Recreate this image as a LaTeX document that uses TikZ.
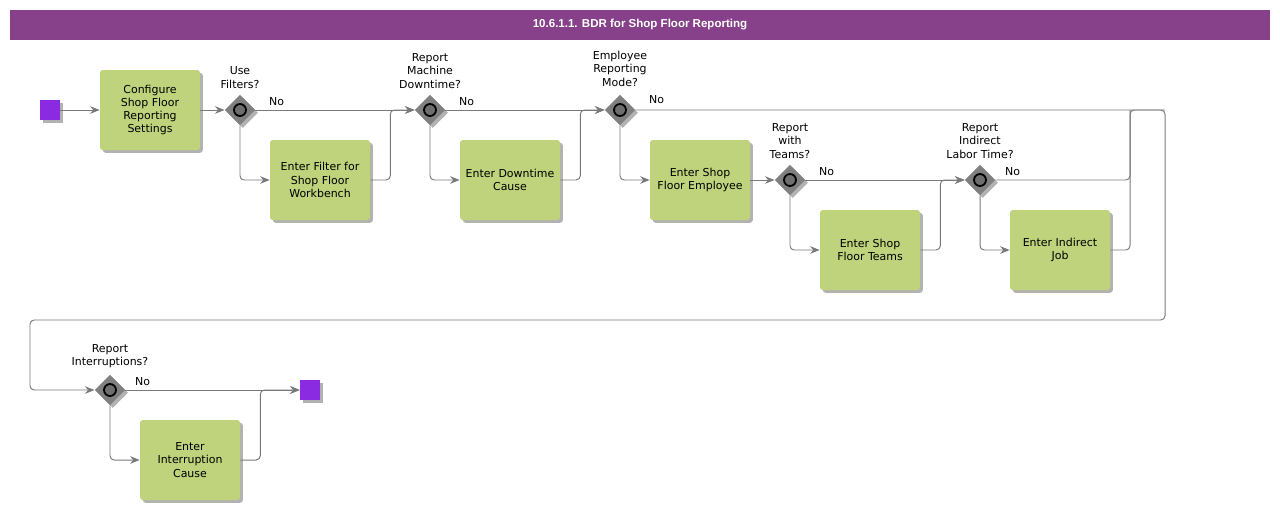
\documentclass[tikz,border=0pt]{standalone}
\usepackage{fontspec}
\setmainfont{DejaVu Sans}
\newfontfamily\titolofont{Liberation Sans}
\usepackage{tikz}
\usetikzlibrary{positioning, arrows.meta, shapes.geometric, shadows, calc}
\definecolor{titolocol}{HTML}{87418B}
\definecolor{attivcol}{HTML}{BED37C}
\definecolor{eventocol}{HTML}{8A2BE2}
\definecolor{lineacol}{HTML}{7A7A7A}
\definecolor{deccol}{HTML}{808080}
\definecolor{cerchiocol}{HTML}{6E6E6E}
\newcommand{\testo}{\fontsize{7.8}{9.4}\selectfont}
\tikzset{
	>={Stealth[length=2.4mm, width=1.9mm]},
	% ombra comune
	ombra/.style={drop shadow={shadow xshift=0.07cm, shadow yshift=-0.07cm, opacity=0.3, fill=black}},
	% barra del titolo
	titolo/.style={rectangle, fill=titolocol, minimum width=31.5cm, minimum height=0.75cm, inner sep=0pt,
	               text=white, font=\titolofont\bfseries\fontsize{8.2}{10}\selectfont},
	% attività (task)
	attivita/.style={rectangle, rounded corners=2pt, fill=attivcol, minimum width=2.5cm, minimum height=2cm,
	                 align=center, font=\testo, ombra},
	% evento di inizio / fine
	evento/.style={rectangle, fill=eventocol, minimum size=0.5cm, inner sep=0pt, ombra},
	% decisione (gateway)
	decisione/.style={diamond, fill=deccol, minimum width=0.76cm, minimum height=0.76cm, inner sep=0pt, ombra,
	                  path picture={\draw[line width=1.3pt, fill=cerchiocol] (path picture bounding box.center) circle (0.15cm);}},
	% domanda sopra la decisione
	domanda/.style={anchor=south, yshift=0.15cm, align=center, inner sep=0pt, font=\testo},
	% etichetta "No"
	nolab/.style={anchor=south west, inner sep=1.5pt, yshift=0.04cm, font=\testo},
	% collegamenti
	linea/.style={draw=lineacol, line width=0.7pt, rounded corners=3pt},
	flusso/.style={linea, ->, lineacol},
}

\begin{document}
\begin{tikzpicture}
    \useasboundingbox (0,0) rectangle (32,-12.75);
    % ---------------- titolo ----------------
    \node[titolo] (tit) at (16,-0.625) {10.6.1.1. BDR for Shop Floor Reporting};

    % ---------------- prima riga ----------------
    \node[evento] (inizio) at (1.25,-2.75) {};
    \node[attivita] (t1) at (3.75,-2.75) {Configure\\Shop Floor\\Reporting\\Settings};

    \node[decisione] (g1) at (6,-2.75) {};
    \node[domanda] (q1) at (g1.north) {Use\\Filters?};
    \node[nolab] (n1) at ([xshift=0.28cm]g1.east) {No};
    \node[attivita] (t2) at (8,-4.5) {Enter Filter for\\Shop Floor\\Workbench};

    \node[decisione] (g2) at (10.75,-2.75) {};
    \node[domanda] (q2) at (g2.north) {Report\\Machine\\Downtime?};
    \node[nolab] (n2) at ([xshift=0.28cm]g2.east) {No};
    \node[attivita] (t3) at (12.75,-4.5) {Enter Downtime\\Cause};

    \node[decisione] (g3) at (15.5,-2.75) {};
    \node[domanda] (q3) at ([yshift=0.05cm]g3.north) {Employee\\Reporting\\Mode?};
    \node[nolab] (n3) at ([xshift=0.28cm, yshift=0.06cm]g3.east) {No};
    \node[attivita] (t4) at (17.5,-4.5) {Enter Shop\\Floor Employee};

    \node[decisione] (g4) at (19.75,-4.5) {};
    \node[domanda] (q4) at (g4.north) {Report\\with\\Teams?};
    \node[nolab] (n4) at ([xshift=0.28cm]g4.east) {No};
    \node[attivita] (t5) at (21.75,-6.25) {Enter Shop\\Floor Teams};

    \node[decisione] (g5) at (24.5,-4.5) {};
    \node[domanda] (q5) at (g5.north) {Report\\Indirect\\Labor Time?};
    \node[nolab] (n5) at ([xshift=0.18cm]g5.east) {No};
    \node[attivita] (t6) at (26.5,-6.25) {Enter Indirect\\Job};

    % ---------------- seconda riga ----------------
    \node[decisione] (g6) at (2.75,-9.75) {};
    \node[domanda] (q6) at (g6.north) {Report\\Interruptions?};
    \node[nolab] (n6) at ([xshift=0.18cm]g6.east) {No};
    \node[attivita] (t7) at (4.75,-11.5) {Enter\\Interruption\\Cause};
    \node[evento] (fine) at (7.75,-9.75) {};

    % punti di raccordo
    \coordinate (m6) at (28.25,-2.75);
    \coordinate (c1) at (29.125,-8);
    \coordinate (c2) at (0.75,-8);

    % ---------------- collegamenti ----------------
    \draw[flusso] (inizio) -- (t1);
    \draw[flusso] (t1) -- (g1);
    \draw[flusso] (g1) -- (g2);
    \draw[flusso] (g1.south) |- (t2.west);
    \draw[flusso] (t2.east) -- ++(0.5,0) |- (g2.west);

    \draw[flusso] (g2) -- (g3);
    \draw[flusso] (g2.south) |- (t3.west);
    \draw[flusso] (t3.east) -- ++(0.5,0) |- (g3.west);

    \draw[flusso] (g3.south) |- (t4.west);
    \draw[flusso] (t4) -- (g4);
    \draw[flusso] (g4) -- (g5);
    \draw[flusso] (g4.south) |- (t5.west);
    \draw[flusso] (t5.east) -- ++(0.5,0) |- (g5.west);

    \draw[flusso] (g5.south) |- (t6.west);
    \draw[linea] (g5.east) -| (m6);
    \draw[linea] (t6.east) -| (m6) -- (c1 |- m6);
    % ritorno alla seconda riga
    \draw[flusso] (g3.east) -| (c1) -- (c2) |- (g6.west);

    \draw[flusso] (g6) -- (fine);
    \draw[flusso] (g6.south) |- (t7.west);
    \draw[flusso] (t7.east) -- ++(0.5,0) |- (fine.west);
\end{tikzpicture}
\end{document}
